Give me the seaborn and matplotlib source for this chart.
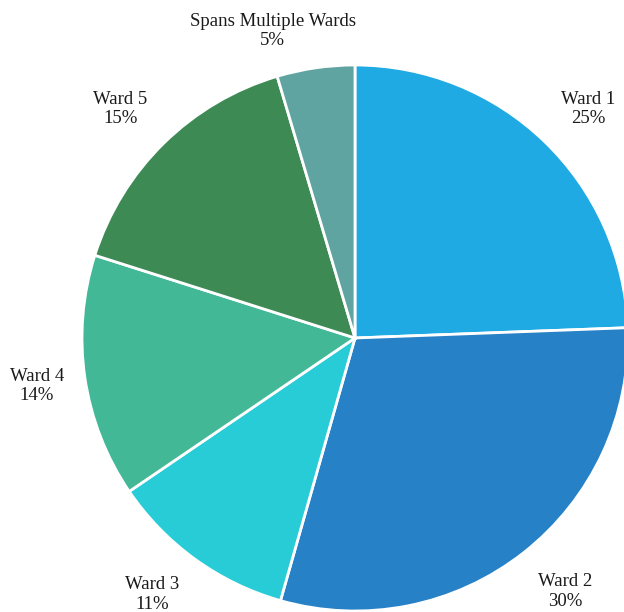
import matplotlib
matplotlib.use("Agg")
import matplotlib.pyplot as plt
import seaborn as sns

sns.set_theme(style="white")
plt.rcParams['font.family'] = ['Liberation Serif', 'DejaVu Serif']

# data (slice sizes, labels as printed)
wards = ['Ward 1', 'Ward 2', 'Ward 3', 'Ward 4', 'Ward 5', 'Spans Multiple Wards']
shares = [24.4, 30.0, 11.1, 14.4, 15.5, 4.6]
pct_labels = [25, 30, 11, 14, 15, 5]
colors = ['#1faae3', '#2781c6', '#27ccd7', '#43b897', '#3d8a55', '#60a4a1']

labels = [f"{w}\n{p}%" for w, p in zip(wards, pct_labels)]

fig = plt.figure(figsize=(6.24, 6.12), dpi=100)
ax = fig.add_axes([0, 0, 1, 1])

wedges, texts = ax.pie(shares, labels=labels, colors=colors, startangle=90,
                       counterclock=False, labeldistance=1.2,
                       wedgeprops=dict(edgecolor='white', linewidth=2),
                       textprops=dict(fontsize=13.5, color='#1a1a1a'))

# label nudges in pixels (right, down), to match the original placement
nudges = [(6, 7), (8, -4), (-11, -9), (6, 1), (-5, 5), (-35, 17)]
R = 273  # pie radius in px
for t, (dx, dy) in zip(texts, nudges):
    t.set_ha('center')
    t.set_multialignment('center')
    x, y = t.get_position()
    t.set_position((x + dx / R, y - dy / R))

# px scale: center at (355, 338), radius 273 px
ax.set_xlim(-355 / R, (624 - 355) / R)
ax.set_ylim(-(612 - 338) / R, 338 / R)
ax.set_aspect('equal')
ax.axis('off')

fig.savefig('out.png', dpi=100)
